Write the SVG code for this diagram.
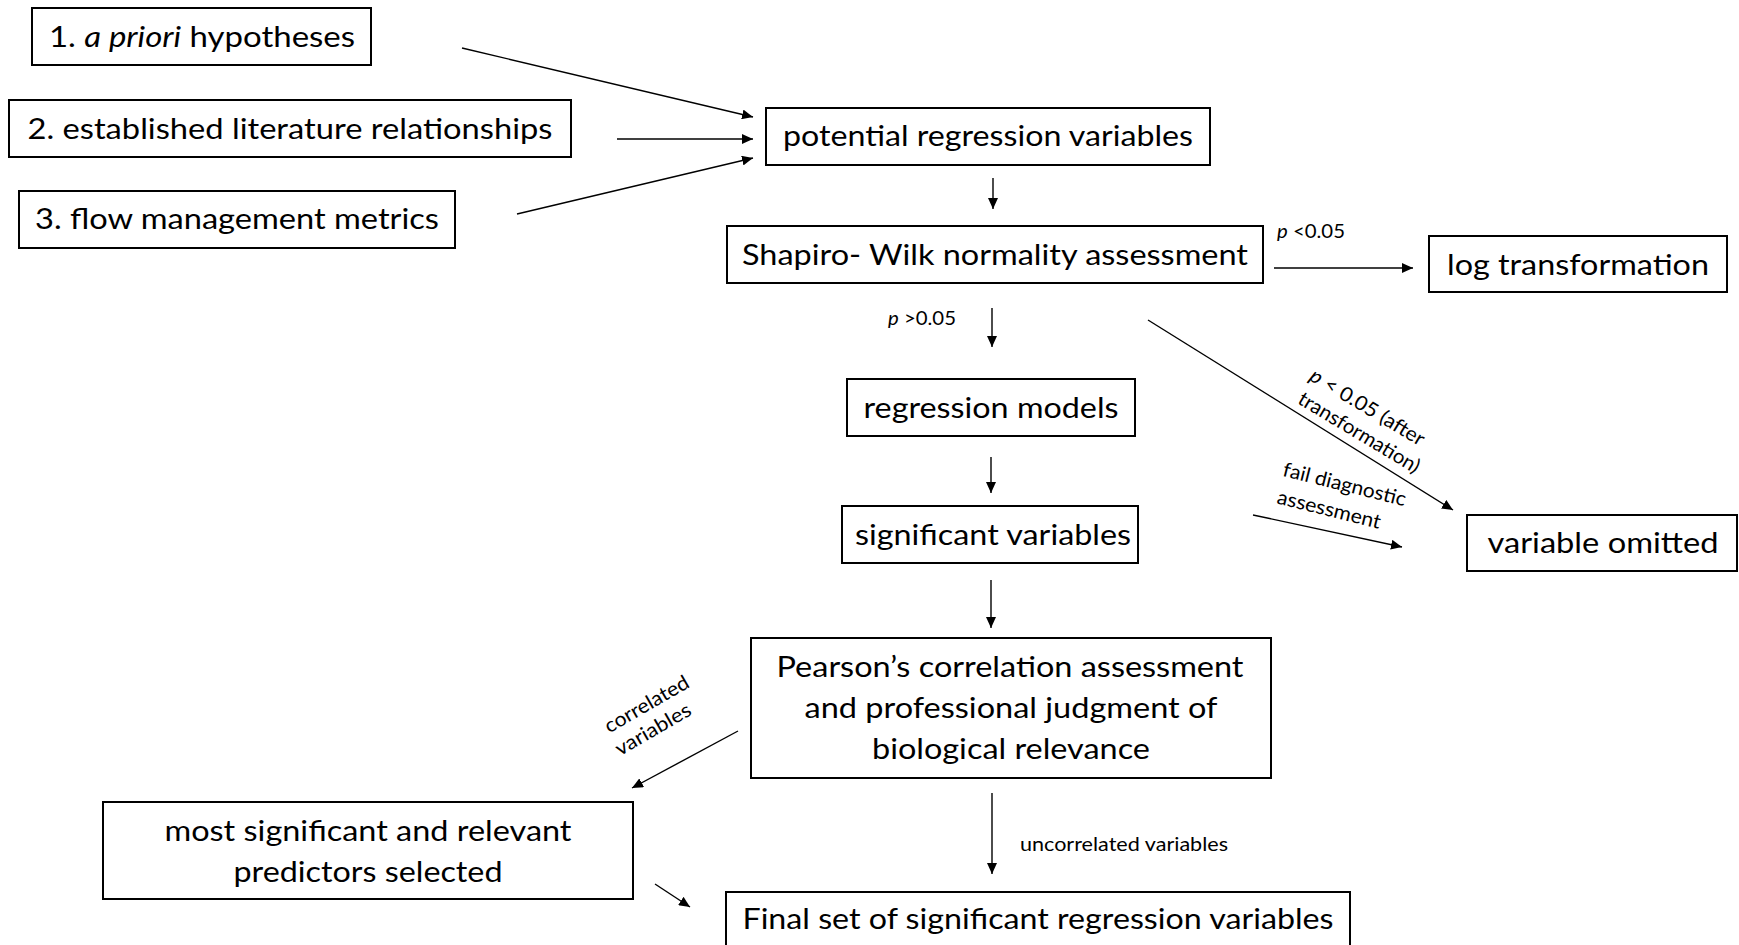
<svg xmlns="http://www.w3.org/2000/svg" width="1739" height="945" viewBox="0 0 1739 945">
<defs>
<marker id="ah" markerUnits="userSpaceOnUse" markerWidth="12" markerHeight="10" refX="11" refY="5" orient="auto">
<path d="M0,0 L11,5 L0,10 Z" fill="#000"/>
</marker>
<style>
.box{fill:#fff;stroke:#000;stroke-width:2}
.t{font-family:Lato,"Liberation Sans",sans-serif;font-size:29px;fill:#000;text-anchor:middle}
.s{font-family:Lato,"Liberation Sans",sans-serif;font-size:20px;fill:#000}
.c{stroke:#000;stroke-width:1.4;fill:none;marker-end:url(#ah)}
</style>
</defs>
<rect width="1739" height="945" fill="#fff"/>

<g id="connectors">
<line class="c" x1="462" y1="48" x2="753" y2="117"/>
<line class="c" x1="617" y1="139" x2="753" y2="139"/>
<line class="c" x1="517" y1="214" x2="753" y2="158"/>
<line class="c" x1="993" y1="178" x2="993" y2="209"/>
<line class="c" x1="1274" y1="268" x2="1413" y2="268"/>
<line class="c" x1="1148" y1="320" x2="1453" y2="510"/>
<line class="c" x1="992" y1="308" x2="992" y2="347"/>
<line class="c" x1="991" y1="457" x2="991" y2="493"/>
<line class="c" x1="1253" y1="515" x2="1402" y2="547"/>
<line class="c" x1="991" y1="580" x2="991" y2="628"/>
<line class="c" x1="738" y1="731" x2="632" y2="788"/>
<line class="c" x1="992" y1="793" x2="992" y2="874"/>
<line class="c" x1="655" y1="884" x2="690" y2="907"/>
</g>

<g id="labels">
<text class="s" x="1277" y="238" textLength="68" lengthAdjust="spacingAndGlyphs"><tspan font-style="italic">p</tspan> &lt;0.05</text>
<text class="s" x="888" y="325" textLength="68" lengthAdjust="spacingAndGlyphs"><tspan font-style="italic">p</tspan> &gt;0.05</text>
<g transform="translate(1364,413) rotate(31)">
<text class="s" x="0" y="0" text-anchor="middle" textLength="130" lengthAdjust="spacingAndGlyphs"><tspan font-style="italic">p</tspan> &lt; 0.05 (after</text>
<text class="s" x="6" y="26" text-anchor="middle" textLength="138" lengthAdjust="spacingAndGlyphs">transformation)</text>
</g>
<g transform="translate(1343,491) rotate(14)">
<text class="s" x="0" y="0" text-anchor="middle" textLength="126" lengthAdjust="spacingAndGlyphs">fail diagnostic</text>
<text class="s" x="-9" y="28" text-anchor="middle" textLength="106" lengthAdjust="spacingAndGlyphs">assessment</text>
</g>
<g transform="translate(650,710) rotate(-30)">
<text class="s" x="0" y="0" text-anchor="middle" textLength="94" lengthAdjust="spacingAndGlyphs">correlated</text>
<text class="s" x="-7" y="25" text-anchor="middle" textLength="84" lengthAdjust="spacingAndGlyphs">variables</text>
</g>
<text class="s" x="1020" y="851" textLength="208" lengthAdjust="spacingAndGlyphs">uncorrelated variables</text>
</g>

<g id="n1">
<rect class="box" x="32" y="8" width="339" height="57"/>
<text class="t" x="202" y="47" textLength="306" lengthAdjust="spacingAndGlyphs">1. <tspan font-style="italic">a priori</tspan> hypotheses</text>
</g>
<g id="n2">
<rect class="box" x="9" y="100" width="562" height="57"/>
<text class="t" x="290" y="139" textLength="525" lengthAdjust="spacingAndGlyphs">2. established literature relationships</text>
</g>
<g id="n3">
<rect class="box" x="19" y="191" width="436" height="57"/>
<text class="t" x="237" y="229" textLength="404" lengthAdjust="spacingAndGlyphs">3. flow management metrics</text>
</g>
<g id="n4">
<rect class="box" x="766" y="108" width="444" height="57"/>
<text class="t" x="988" y="146" textLength="410" lengthAdjust="spacingAndGlyphs">potential regression variables</text>
</g>
<g id="n5">
<rect class="box" x="727" y="226" width="536" height="57"/>
<text class="t" x="995" y="265" textLength="506" lengthAdjust="spacingAndGlyphs">Shapiro- Wilk normality assessment</text>
</g>
<g id="n6">
<rect class="box" x="1429" y="236" width="298" height="56"/>
<text class="t" x="1578" y="275" textLength="262" lengthAdjust="spacingAndGlyphs">log transformation</text>
</g>
<g id="n7">
<rect class="box" x="847" y="379" width="288" height="57"/>
<text class="t" x="991" y="418" textLength="255" lengthAdjust="spacingAndGlyphs">regression models</text>
</g>
<g id="n8">
<rect class="box" x="842" y="506" width="296" height="57"/>
<text class="t" x="993" y="545" textLength="276" lengthAdjust="spacingAndGlyphs">significant variables</text>
</g>
<g id="n9">
<rect class="box" x="1467" y="515" width="270" height="56"/>
<text class="t" x="1603" y="553" textLength="231" lengthAdjust="spacingAndGlyphs">variable omitted</text>
</g>
<g id="n10">
<rect class="box" x="751" y="638" width="520" height="140"/>
<text class="t" x="1010" y="677" textLength="467" lengthAdjust="spacingAndGlyphs">Pearson’s correlation assessment</text>
<text class="t" x="1011" y="718" textLength="413" lengthAdjust="spacingAndGlyphs">and professional judgment of</text>
<text class="t" x="1011" y="759" textLength="278" lengthAdjust="spacingAndGlyphs">biological relevance</text>
</g>
<g id="n11">
<rect class="box" x="103" y="802" width="530" height="97"/>
<text class="t" x="368" y="841" textLength="407" lengthAdjust="spacingAndGlyphs">most significant and relevant</text>
<text class="t" x="368" y="882" textLength="269" lengthAdjust="spacingAndGlyphs">predictors selected</text>
</g>
<g id="n12">
<path d="M726,946 V892 H1350 V946" fill="#fff" stroke="#000" stroke-width="2"/>
<text class="t" x="1038" y="929" textLength="591" lengthAdjust="spacingAndGlyphs">Final set of significant regression variables</text>
</g>
</svg>
